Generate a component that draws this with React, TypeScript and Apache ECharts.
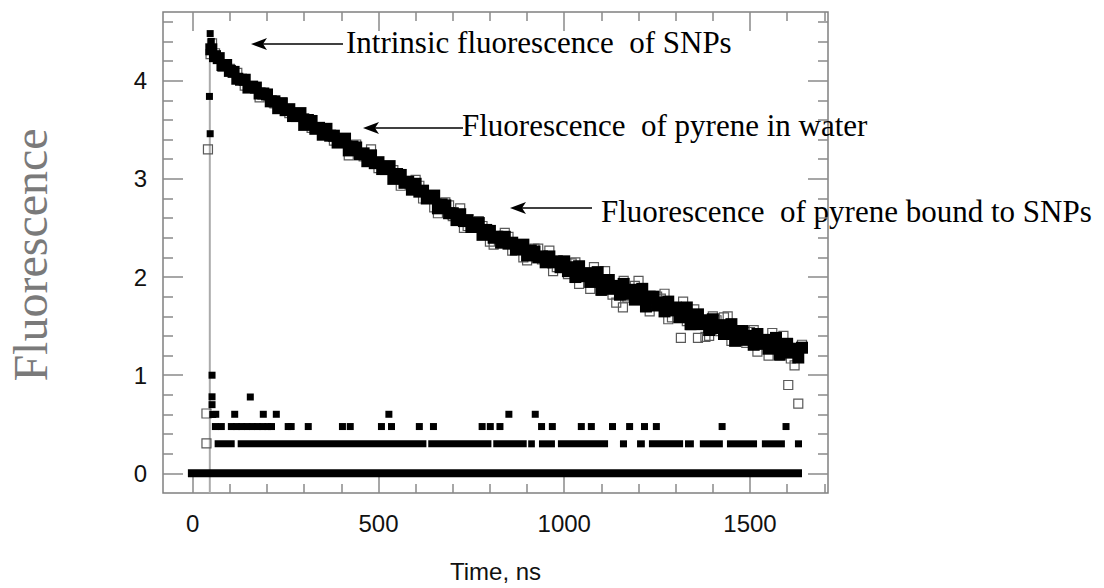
import React, { useEffect, useRef } from "react";
import * as echarts from "echarts";

// ---------- axis ticks ----------
const xMajorTicks = [0, 500, 1000, 1500];
const xMinorTicks = [100, 200, 300, 400, 600, 700, 800, 900, 1100, 1200, 1300, 1400, 1600, 1700];
const yMajorTicks = [0, 1, 2, 3, 4];
const yMinorTicks = [0.2, 0.4, 0.6, 0.8, 1.2, 1.4, 1.6, 1.8, 2.2, 2.4, 2.6, 2.8, 3.2, 3.4, 3.6, 3.8, 4.2, 4.4, 4.6];

// ---------- data (time ns, log fluorescence) ----------
// pyrene in water: filled black squares
const waterDecay: [number, number][] = [
  [50, 4.32], [60, 4.25], [70, 4.23], [80, 4.16], [90, 4.16], [100, 4.10], [110, 4.09], [120, 4.02], [130, 4.01], [140, 4.01],
  [150, 3.93], [160, 3.94], [170, 3.93], [180, 3.87], [190, 3.87], [200, 3.86], [210, 3.79], [220, 3.79], [230, 3.72], [240, 3.77],
  [250, 3.70], [260, 3.71], [270, 3.64], [280, 3.64], [290, 3.67], [300, 3.55], [310, 3.60], [320, 3.59], [330, 3.51], [340, 3.52],
  [350, 3.45], [360, 3.51], [370, 3.44], [380, 3.44], [390, 3.37], [400, 3.38], [410, 3.41], [420, 3.29], [430, 3.33], [440, 3.32],
  [450, 3.25], [460, 3.26], [470, 3.18], [480, 3.24], [490, 3.16], [500, 3.17], [510, 3.10], [520, 3.10], [530, 3.13], [540, 3.00],
  [550, 3.05], [560, 3.04], [570, 2.96], [580, 2.97], [590, 2.89], [600, 2.95], [610, 2.87], [620, 2.88], [630, 2.80], [640, 2.81],
  [650, 2.83], [660, 2.70], [670, 2.74], [680, 2.73], [690, 2.65], [700, 2.65], [710, 2.58], [720, 2.64], [730, 2.57], [740, 2.58],
  [750, 2.51], [760, 2.52], [770, 2.55], [780, 2.43], [790, 2.48], [800, 2.47], [810, 2.40], [820, 2.41], [830, 2.35], [840, 2.41],
  [850, 2.34], [860, 2.35], [870, 2.28], [880, 2.30], [890, 2.33], [900, 2.22], [910, 2.27], [920, 2.26], [930, 2.20], [940, 2.21],
  [950, 2.15], [960, 2.21], [970, 2.15], [980, 2.16], [990, 2.10], [1000, 2.16], [1010, 2.06], [1020, 2.10], [1030, 2.00], [1040, 2.11],
  [1050, 2.01], [1060, 2.04], [1070, 1.95], [1080, 1.98], [1090, 2.05], [1100, 1.87], [1110, 1.97], [1120, 1.97], [1130, 1.88], [1140, 1.91],
  [1150, 1.82], [1160, 1.93], [1170, 1.83], [1180, 1.87], [1190, 1.77], [1200, 1.81], [1210, 1.88], [1220, 1.70], [1230, 1.80], [1240, 1.80],
  [1250, 1.71], [1260, 1.74], [1270, 1.65], [1280, 1.75], [1290, 1.66], [1300, 1.69], [1310, 1.59], [1320, 1.63], [1330, 1.69], [1340, 1.52],
  [1350, 1.61], [1360, 1.62], [1370, 1.52], [1380, 1.56], [1390, 1.46], [1400, 1.57], [1410, 1.48], [1420, 1.51], [1430, 1.42], [1440, 1.45],
  [1450, 1.52], [1460, 1.35], [1470, 1.45], [1480, 1.45], [1490, 1.36], [1500, 1.40], [1510, 1.31], [1520, 1.42], [1530, 1.32], [1540, 1.36],
  [1550, 1.27], [1560, 1.31], [1570, 1.38], [1580, 1.21], [1590, 1.31], [1600, 1.32], [1610, 1.23], [1620, 1.27], [1630, 1.18], [1640, 1.28],
];

// pyrene bound to SNPs: open grey squares
const boundDecay: [number, number][] = [
  [37, 0.305], [37, 0.61], [41, 3.30], [48, 4.27], [52, 4.38],
  [60, 4.28], [80, 4.14], [100, 4.12], [120, 4.08], [140, 3.95], [160, 3.93], [180, 3.83], [200, 3.86], [220, 3.77], [240, 3.78],
  [260, 3.67], [280, 3.65], [300, 3.62], [320, 3.52], [340, 3.52], [360, 3.51], [380, 3.39], [400, 3.38], [420, 3.24], [440, 3.35],
  [460, 3.23], [480, 3.30], [500, 3.11], [520, 3.12], [540, 3.09], [560, 2.93], [580, 2.98], [600, 2.99], [620, 2.80], [640, 2.81],
  [660, 2.65], [680, 2.76], [700, 2.62], [720, 2.70], [740, 2.52], [760, 2.54], [780, 2.52], [800, 2.36], [820, 2.42], [840, 2.45],
  [860, 2.27], [880, 2.30], [900, 2.17], [920, 2.29], [940, 2.18], [960, 2.27], [980, 2.10], [1000, 2.13],
  [610, 2.93], [650, 2.71], [690, 2.73], [730, 2.50], [770, 2.57], [810, 2.33], [850, 2.41], [890, 2.20], [930, 2.29], [970, 2.06],
  [1020, 2.14], [1040, 1.93], [1060, 2.04], [1080, 2.10], [1100, 1.86], [1120, 1.92], [1140, 1.74], [1160, 1.96], [1180, 1.81], [1200, 1.96],
  [1220, 1.72], [1240, 1.78], [1260, 1.78], [1280, 1.57], [1300, 1.69], [1320, 1.75], [1340, 1.51], [1360, 1.57], [1380, 1.39], [1400, 1.60],
  [1420, 1.45], [1440, 1.60], [1460, 1.37], [1480, 1.43], [1500, 1.44], [1520, 1.24], [1540, 1.36], [1560, 1.43], [1580, 1.20], [1600, 1.27],
  [1620, 1.10], [1640, 1.31],
  [1010, 2.03], [1030, 2.15], [1050, 2.00], [1070, 1.88], [1090, 2.03], [1110, 2.06], [1130, 1.82], [1150, 1.91], [1170, 1.79], [1190, 1.91],
  [1210, 1.77], [1230, 1.65], [1250, 1.80], [1270, 1.83], [1290, 1.59], [1310, 1.67], [1330, 1.55], [1350, 1.67], [1370, 1.52], [1390, 1.40],
  [1410, 1.56], [1430, 1.59], [1450, 1.35], [1470, 1.45], [1490, 1.33], [1510, 1.46], [1530, 1.31], [1550, 1.20], [1570, 1.36], [1590, 1.40],
  [1610, 1.17], [1630, 1.27],
  [1158, 1.69], [1314, 1.38], [1360, 1.38], [1603, 0.90], [1630, 0.71],
];

// intrinsic fluorescence of SNPs: filled squares at the pulse
const intrinsicPeak: [number, number][] = [
  [47, 4.48], [50, 4.40], [45, 3.84], [47, 3.46], [52, 1.0], [52, 0.78], [52, 0.70], [54, 0.60],
];

// quantized background counts (log10 of 1,2,3,4,6 counts)
const countLevels = [0, 0.301, 0.477, 0.602, 0.778];
const level0Runs: [number, number][] = [[-13, 1640]];
const level1Runs: [number, number][] = [
  [59, 113], [121, 629], [634, 804], [809, 899], [903, 921], [932, 975], [983, 1118], [1150, 1169], [1196, 1217],
  [1228, 1320], [1325, 1349], [1365, 1427], [1438, 1519], [1532, 1594], [1621, 1640],
];
const level2Times = [61, 77, 104, 118, 132, 146, 160, 174, 188, 202, 212, 257, 265, 311, 403, 424, 508, 535, 610, 648,
  779, 801, 827, 939, 968, 1046, 1073, 1130, 1176, 1216, 1248, 1425, 1597];
const level3Times = [62, 113, 190, 225, 528, 851, 922];
const level4Times = [155];

// excitation pulse line
const pulseLine: [number, number][] = [[46, -0.2], [46, 4.27]];

const X_MIN = -80, X_MAX = 1710, Y_MIN = -0.2, Y_MAX = 4.7;

const TICK_COLOR = "#8a8a8a";
const SANS = "Liberation Sans";
const SERIF = "Liberation Serif";

function xAxisDef(position: "bottom" | "top", major: boolean, withLabel: boolean) {
  return {
    type: "value",
    min: X_MIN,
    max: X_MAX,
    position,
    axisLine: { show: false, onZero: false },
    splitLine: { show: false },
    axisTick: {
      show: true,
      inside: true,
      length: major ? 19 : 9,
      customValues: major ? xMajorTicks : xMinorTicks,
      lineStyle: { color: TICK_COLOR, width: 1.5 },
    },
    axisLabel: withLabel
      ? {
          show: true,
          customValues: xMajorTicks,
          margin: 18,
          fontSize: 24,
          color: "#111",
          fontFamily: SANS,
          formatter: (v: number) => String(v),
        }
      : { show: false },
    ...(withLabel
      ? {
          name: "Time, ns",
          nameLocation: "middle",
          nameGap: 66,
          nameTextStyle: { fontSize: 24, color: "#111", fontFamily: SANS },
        }
      : {}),
  };
}

function yAxisDef(position: "left" | "right", major: boolean, withLabel: boolean) {
  return {
    type: "value",
    min: Y_MIN,
    max: Y_MAX,
    position,
    axisLine: { show: false, onZero: false },
    splitLine: { show: false },
    axisTick: {
      show: true,
      inside: true,
      length: major ? 20 : 10,
      customValues: major ? yMajorTicks : yMinorTicks,
      lineStyle: { color: TICK_COLOR, width: 1.5 },
    },
    axisLabel: withLabel
      ? {
          show: true,
          customValues: yMajorTicks,
          margin: 16,
          fontSize: 24,
          color: "#111",
          fontFamily: SANS,
          formatter: (v: number) => String(v),
        }
      : { show: false },
  };
}

function runSeries(runs: [number, number][], level: number, thickness: number) {
  return {
    type: "custom",
    xAxisIndex: 0,
    yAxisIndex: 0,
    z: 2,
    data: runs.map((r) => [r[0], r[1], level]),
    encode: { x: [0, 1], y: 2 },
    renderItem: (_params: any, api: any) => {
      const a = api.coord([api.value(0), api.value(2)]);
      const b = api.coord([api.value(1), api.value(2)]);
      return {
        type: "rect",
        shape: { x: a[0], y: a[1] - thickness / 2, width: b[0] - a[0], height: thickness },
        style: { fill: "#000" },
      };
    },
  };
}

function pointSeries(times: number[], level: number) {
  return {
    type: "scatter",
    xAxisIndex: 0,
    yAxisIndex: 0,
    z: 4,
    symbol: "rect",
    symbolSize: 7,
    itemStyle: { color: "#000", opacity: 1 },
    data: times.map((t) => [t, level]),
  };
}

function arrow(tipX: number, tailX: number, y: number) {
  return [
    { type: "line", shape: { x1: tipX + 10, y1: y, x2: tailX, y2: y }, style: { stroke: "#000", lineWidth: 1.6 } },
    {
      type: "polygon",
      shape: { points: [[tipX, y], [tipX + 16, y - 6], [tipX + 12, y], [tipX + 16, y + 6]] },
      style: { fill: "#000" },
    },
  ];
}

export default function App() {
  const ref = useRef<HTMLDivElement>(null);
  useEffect(() => {
    if (!ref.current) return;
    const chart = echarts.init(ref.current, null, { renderer: "svg" });
    chart.setOption({
      animation: false,
      backgroundColor: "#fff",
      grid: {
        left: 163,
        right: 276,
        top: 12,
        bottom: 95,
        show: true,
        borderColor: "#808080",
        borderWidth: 1.5,
        backgroundColor: "transparent",
      },
      xAxis: [
        xAxisDef("bottom", true, true),
        xAxisDef("bottom", false, false),
        xAxisDef("top", true, false),
        xAxisDef("top", false, false),
      ],
      yAxis: [
        yAxisDef("left", true, true),
        yAxisDef("left", false, false),
        yAxisDef("right", true, false),
        yAxisDef("right", false, false),
      ],
      series: [
        {
          type: "line",
          xAxisIndex: 0,
          yAxisIndex: 0,
          z: 1,
          symbol: "none",
          data: pulseLine,
          lineStyle: { color: "#ababab", width: 2 },
        },
        runSeries(level0Runs, countLevels[0], 8),
        runSeries(level1Runs, countLevels[1], 7),
        pointSeries(level2Times, countLevels[2]),
        pointSeries(level3Times, countLevels[3]),
        pointSeries(level4Times, countLevels[4]),
        {
          type: "scatter",
          xAxisIndex: 0,
          yAxisIndex: 0,
          z: 3,
          symbol: "rect",
          symbolSize: 9,
          itemStyle: { color: "rgba(0,0,0,0)", borderColor: "#5a5a5a", borderWidth: 1.2, opacity: 1 },
          data: boundDecay,
        },
        {
          type: "scatter",
          xAxisIndex: 0,
          yAxisIndex: 0,
          z: 4,
          symbol: "rect",
          symbolSize: 12,
          itemStyle: { color: "#000", opacity: 1 },
          data: waterDecay,
        },
        {
          type: "scatter",
          xAxisIndex: 0,
          yAxisIndex: 0,
          z: 5,
          symbol: "rect",
          symbolSize: 7,
          itemStyle: { color: "#000", opacity: 1 },
          data: intrinsicPeak,
        },
      ],
      graphic: [
        {
          type: "text",
          x: 30,
          y: 255,
          rotation: Math.PI / 2,
          style: {
            text: "Fluorescence",
            fontSize: 48,
            fontFamily: SERIF,
            fill: "#7a7a7a",
            align: "center",
            verticalAlign: "middle",
          },
        },
        ...arrow(251, 343, 44),
        {
          type: "text",
          x: 346,
          y: 42,
          style: { text: "Intrinsic fluorescence\u00a0 of SNPs", fontSize: 31, fontFamily: SERIF, fill: "#000", align: "left", verticalAlign: "middle" },
        },
        ...arrow(363, 463, 128),
        {
          type: "text",
          x: 462,
          y: 125,
          style: { text: "Fluorescence\u00a0 of pyrene in water", fontSize: 31, fontFamily: SERIF, fill: "#000", align: "left", verticalAlign: "middle" },
        },
        ...arrow(510, 592, 208),
        {
          type: "text",
          x: 601,
          y: 211,
          style: { text: "Fluorescence\u00a0 of pyrene bound to SNPs", fontSize: 31, fontFamily: SERIF, fill: "#000", align: "left", verticalAlign: "middle" },
        },
      ],
    });
    return () => chart.dispose();
  }, []);
  return (
    <div
      ref={ref}
      style={{ position: "fixed", left: 0, top: 0, width: 1104, height: 588, background: "#fff" }}
    />
  );
}
